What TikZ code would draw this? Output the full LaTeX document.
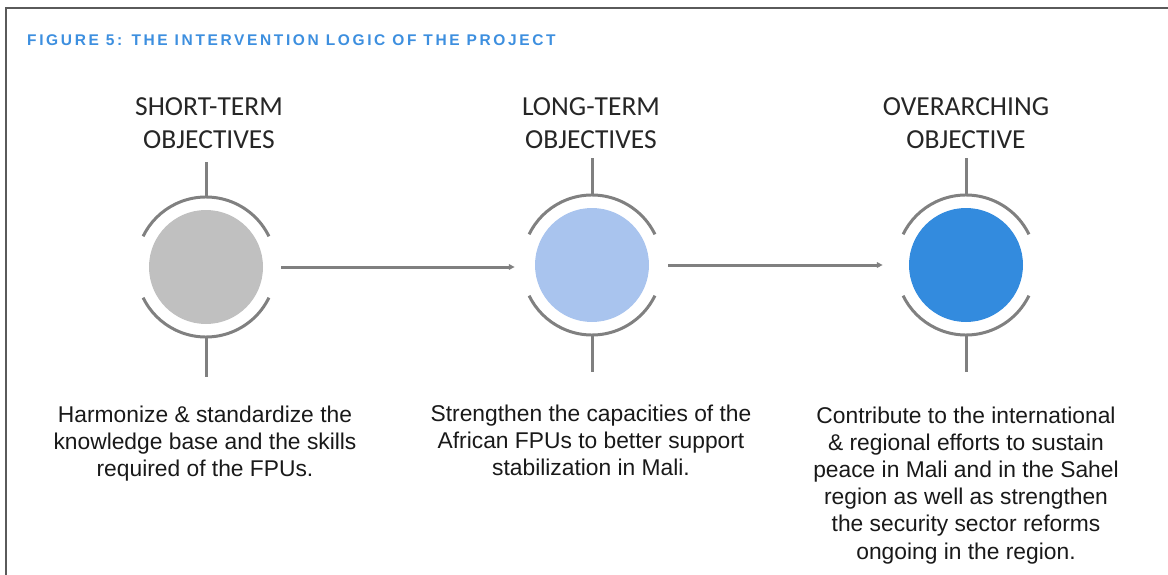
\documentclass[tikz,border=0pt]{standalone}
\usepackage{fontspec}
\setmainfont{Liberation Sans}
\newfontfamily\headfont{Carlito}
\newfontfamily\titlefont[LetterSpace=17]{Liberation Sans Bold}
\usetikzlibrary{arrows.meta}
\definecolor{framegray}{HTML}{5A5A5A}
\definecolor{ringgray}{HTML}{808080}
\definecolor{titleblue}{HTML}{3D8FDF}
\definecolor{fillgray}{HTML}{C0C0C0}
\definecolor{filllight}{HTML}{A9C4EE}
\definecolor{filldark}{HTML}{338BDE}
\tikzset{
  disc/.style={circle, minimum size=114pt, inner sep=0pt, draw=none},
  ring/.style={draw=ringgray, line width=3pt},
  tick/.style={draw=ringgray, line width=3pt},
  conn/.style={draw=ringgray, fill=ringgray, line width=3pt, -{Triangle[length=16pt,width=3.6pt]}},
  heading/.style={font=\headfont\fontsize{27.5}{33}\selectfont, align=center, anchor=base, inner sep=0pt, text=black!85},
  body/.style={font=\fontsize{22.8}{27.2}\selectfont, align=center, anchor=base, inner sep=0pt, text=black!90},
}
\begin{document}
\begin{tikzpicture}[x=1pt, y=-1pt]
  \useasboundingbox (0,0) rectangle (1168,575);
  % open frame: top and left edges
  \draw[framegray, line width=1.5pt] (6,575) -- (6,8) -- (1168,8);
  % title
  \node[anchor=base west, inner sep=0pt, text=titleblue, font=\titlefont\fontsize{15.5}{18}\selectfont] (title) at (27,45.7) {FIGURE 5: THE INTERVENTION LOGIC OF THE PROJECT};

  % the three objective discs
  \node[disc, fill=fillgray]  (c1) at (206,267) {};
  \node[disc, fill=filllight] (c2) at (592,265) {};
  \node[disc, fill=filldark]  (c3) at (966,265) {};

  % rings and ticks around each disc (arc angles in canvas orientation)
  \foreach \c/\tt/\tb in {c1/162/377, c2/158/372, c3/158/372}{
    \draw[ring] (\c.center) ++(26:70pt) arc[start angle=26, end angle=154, radius=70pt];
    \draw[ring] (\c.center) ++(-26:70pt) arc[start angle=-26, end angle=-154, radius=70pt];
    \draw[tick] ([yshift=70pt]\c.center) -- (\c.center |- 0,\tt);
    \draw[tick] ([yshift=-70pt]\c.center) -- (\c.center |- 0,\tb);
  }

  % connectors
  \draw[conn] ([xshift=18pt]c1.east) -- ([xshift=-10pt]c2.west |- c1.east);
  \draw[conn] ([xshift=19pt]c2.east) -- ([xshift=-16pt]c3.west);

  % headings (anchor sits on the last line's baseline)
  \node[heading] (h1) at (209,149) {SHORT-TERM\\OBJECTIVES};
  \node[heading] (h2) at (591,149) {LONG-TERM\\OBJECTIVES};
  \node[heading] (h3) at (966,149) {OVERARCHING\\OBJECTIVE};

  % descriptions (anchor sits on the last line's baseline)
  \node[body] (t1) at (205,476.4) {Harmonize \& standardize the\\knowledge base and the skills\\required of the FPUs.};
  \node[body] (t2) at (591,475.4) {Strengthen the capacities of the\\African FPUs to better support\\stabilization in Mali.};
  \node[body] (t3) at (966,559) {Contribute to the international\\\& regional efforts to sustain\\peace in Mali and in the Sahel\\region as well as strengthen\\the security sector reforms\\ongoing in the region.};
\end{tikzpicture}
\end{document}
